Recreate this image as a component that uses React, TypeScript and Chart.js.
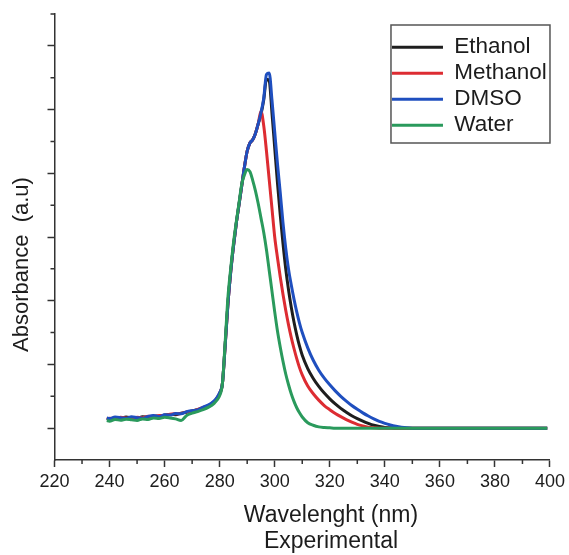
import React, { useEffect, useRef } from "react";
import { Chart, registerables } from "chart.js";

Chart.register(...registerables);

const wavelengths = [239, 240, 242, 244, 246, 248, 250, 252, 254, 256, 258, 260, 262, 264, 266, 268, 270, 272, 274, 276, 278, 279, 280,
  281, 282, 283, 284, 285, 286, 287, 288, 289, 290, 291, 292, 293, 294, 295, 296, 297, 298, 299, 300, 301, 302, 303, 304, 305, 306, 307, 308, 309, 310,
  312, 314, 316, 318, 320, 322, 324, 326, 328, 330, 332, 334, 336, 338, 340, 342, 344, 346, 348, 350,
  355, 360, 365, 370, 375, 380, 385, 390, 395, 399];

const ethanol = [0.030, 0.028, 0.033, 0.031, 0.035, 0.032, 0.030, 0.036, 0.034, 0.038, 0.037, 0.041, 0.043, 0.042, 0.047, 0.050, 0.054, 0.058, 0.063, 0.071, 0.083, 0.093, 0.108,
  0.14, 0.26, 0.39, 0.49, 0.57, 0.64, 0.70, 0.76, 0.82, 0.87, 0.895, 0.905, 0.925, 0.955, 0.985, 1.03, 1.095, 1.09, 0.99, 0.88, 0.77, 0.67, 0.58, 0.50, 0.435, 0.38, 0.333, 0.293, 0.258, 0.229,
  0.187, 0.156, 0.131, 0.11, 0.092, 0.076, 0.062, 0.05, 0.039, 0.03, 0.022, 0.015, 0.009, 0.005, 0.002, 0.001, 0, 0, 0, 0,
  0, 0, 0, 0, 0, 0, 0, 0, 0, 0];

const methanol = [0.028, 0.031, 0.030, 0.034, 0.032, 0.030, 0.034, 0.033, 0.037, 0.036, 0.040, 0.039, 0.044, 0.045, 0.046, 0.051, 0.053, 0.059, 0.065, 0.070, 0.082, 0.094, 0.110,
  0.14, 0.26, 0.39, 0.49, 0.57, 0.64, 0.70, 0.76, 0.82, 0.87, 0.895, 0.905, 0.925, 0.955, 0.995, 0.95, 0.87, 0.78, 0.69, 0.60, 0.535, 0.475, 0.42, 0.37, 0.325, 0.285, 0.25, 0.218, 0.19, 0.167,
  0.132, 0.108, 0.088, 0.071, 0.058, 0.046, 0.036, 0.027, 0.019, 0.012, 0.007, 0.003, 0.001, 0, 0, 0, 0, 0, 0, 0,
  0, 0, 0, 0, 0, 0, 0, 0, 0, 0];

const dmso = [0.032, 0.030, 0.035, 0.033, 0.030, 0.036, 0.033, 0.031, 0.037, 0.040, 0.036, 0.042, 0.041, 0.046, 0.045, 0.052, 0.055, 0.057, 0.066, 0.073, 0.086, 0.096, 0.112,
  0.14, 0.26, 0.39, 0.49, 0.57, 0.64, 0.70, 0.76, 0.82, 0.87, 0.895, 0.905, 0.925, 0.955, 0.99, 1.035, 1.11, 1.115, 1.03, 0.93, 0.83, 0.74, 0.645, 0.565, 0.50, 0.45, 0.405, 0.365, 0.33, 0.30,
  0.252, 0.213, 0.182, 0.157, 0.136, 0.117, 0.10, 0.085, 0.071, 0.059, 0.048, 0.038, 0.029, 0.021, 0.015, 0.01, 0.006, 0.003, 0.001, 0,
  0, 0, 0, 0, 0, 0, 0, 0, 0, 0];

const water = [0.024, 0.022, 0.027, 0.025, 0.028, 0.026, 0.024, 0.029, 0.027, 0.032, 0.030, 0.034, 0.032, 0.029, 0.024, 0.040, 0.047, 0.052, 0.058, 0.066, 0.078, 0.088, 0.102,
  0.14, 0.27, 0.41, 0.50, 0.58, 0.645, 0.705, 0.765, 0.795, 0.812, 0.805, 0.778, 0.745, 0.705, 0.66, 0.615, 0.56, 0.495, 0.43, 0.365, 0.305, 0.255, 0.21, 0.17, 0.137, 0.108, 0.084, 0.064, 0.048, 0.035,
  0.017, 0.009, 0.004, 0.002, 0.001, 0, 0, 0, 0, 0, 0, 0, 0, 0, 0, 0, 0, 0, 0, 0,
  0, 0, 0, 0, 0, 0, 0, 0, 0, 0];

const seriesNames = ["Ethanol", "Methanol", "DMSO", "Water"];
const xMajorTicks = [220, 240, 260, 280, 300, 320, 340, 360, 380, 400];
const xMinorTicks = [230, 250, 270, 290, 310, 330, 350, 370, 390];
const yMajorTicks = [0, 0.2, 0.4, 0.6, 0.8, 1.0, 1.2];
const yMinorTicks = [0.1, 0.3, 0.5, 0.7, 0.9, 1.1, 1.3];

const FONT = "'Liberation Sans', Arial, sans-serif";
const AXIS = "#333333";
const TEXT = "#1c1c1c";

const minorTicksPlugin = {
  id: "minorTicks",
  afterDraw(chart: any) {
    const { ctx } = chart;
    const xs = chart.scales.x;
    const ys = chart.scales.y;
    ctx.save();
    ctx.strokeStyle = AXIS;
    ctx.lineWidth = 1.5;
    ctx.beginPath();
    for (const v of xMinorTicks) {
      const px = xs.getPixelForValue(v);
      ctx.moveTo(px, xs.top);
      ctx.lineTo(px, xs.top + 4);
    }
    for (const v of yMinorTicks) {
      const py = ys.getPixelForValue(v);
      ctx.moveTo(ys.right, py);
      ctx.lineTo(ys.right - 4, py);
    }
    ctx.stroke();
    const lg = chart.legend;
    if (lg && lg._frame) {
      const f = lg._frame;
      ctx.strokeStyle = "#555555";
      ctx.lineWidth = 1.5;
      ctx.strokeRect(f.left, f.top, f.width, f.height);
    }
    ctx.restore();
  },
};

const legendPlacePlugin = {
  id: "legendPlace",
  afterLayout(chart: any) {
    const lg = chart.legend;
    const ca = chart.chartArea;
    if (!lg || !ca) return;
    const frameW = 159;
    const frameH = 118;
    const frameLeft = ca.right - frameW;
    const frameTop = ca.top + 11;
    const pad = lg.options.labels.padding;
    lg.left = frameLeft + 1 - pad;
    lg.top = frameTop + 11 - pad;
    lg.right = lg.left + lg.width;
    lg.bottom = lg.top + lg.height;
    lg._frame = { left: frameLeft, top: frameTop, width: frameW, height: frameH };
  },
};

export default function App() {
  const ref = useRef<HTMLCanvasElement | null>(null);
  useEffect(() => {
    if (!ref.current) return;
    const colors = ["#1e1e1e", "#dd2c32", "#1f4fbf", "#2a9a5c"];
    const values = [ethanol, methanol, dmso, water];
    const orders = [4, 3, 2, 1];
    const chart = new Chart(ref.current, {
      type: "line",
      data: {
        labels: wavelengths,
        datasets: seriesNames.map((name, i) => ({
          label: name,
          data: wavelengths.map((w, j) => ({ x: w, y: values[i][j] })),
          borderColor: colors[i],
          backgroundColor: colors[i],
          borderWidth: 3,
          pointRadius: 0,
          cubicInterpolationMode: "monotone" as const,
          order: orders[i],
        })),
      },
      options: {
        animation: false,
        responsive: true,
        maintainAspectRatio: false,
        layout: { padding: { top: 14, right: 18, bottom: 0, left: 0 } },
        plugins: {
          tooltip: { enabled: false },
          legend: {
            position: "chartArea" as any,
            align: "start",
            labels: {
              boxWidth: 51,
              boxHeight: 3,
              padding: 3.5,
              color: TEXT,
              font: { family: FONT, size: 22.5 },
              sort: (a: any, b: any) => a.datasetIndex - b.datasetIndex,
              generateLabels: (c: any) =>
                Chart.defaults.plugins.legend.labels
                  .generateLabels(c)
                  .map((l: any) => ({ ...l, lineWidth: 0, fillStyle: l.strokeStyle })),
            },
          },
        },
        scales: {
          x: {
            type: "linear",
            min: 220,
            max: 400,
            afterBuildTicks: (s: any) => {
              s.ticks = xMajorTicks.map((v) => ({ value: v }));
            },
            grid: { drawOnChartArea: false, drawTicks: true, tickLength: 7, tickColor: AXIS, tickWidth: 1.5 },
            border: { display: true, color: AXIS, width: 1.5 },
            ticks: { color: TEXT, font: { family: FONT, size: 18 }, padding: 4, maxRotation: 0, autoSkip: false },
            title: {
              display: true,
              text: ["         Wavelenght (nm)", "         Experimental"],
              color: TEXT,
              font: { family: FONT, size: 23, lineHeight: "26px" },
              padding: { top: 6.4, bottom: 0 },
            },
          },
          y: {
            type: "linear",
            min: -0.1,
            max: 1.3,
            afterBuildTicks: (s: any) => {
              s.ticks = yMajorTicks.map((v) => ({ value: v }));
            },
            grid: { drawOnChartArea: false, drawTicks: true, tickLength: 7, tickColor: AXIS, tickWidth: 1.5 },
            border: { display: true, color: AXIS, width: 1.5 },
            ticks: { display: false },
            title: {
              display: true,
              text: "Absorbance  (a.u)         ",
              color: TEXT,
              font: { family: FONT, size: 22, lineHeight: "24px" },
              padding: { top: 10, bottom: 13.5 },
            },
          },
        },
      },
      plugins: [legendPlacePlugin, minorTicksPlugin],
    });
    return () => chart.destroy();
  }, []);
  return (
    <div style={{ position: "absolute", left: 0, top: 0, width: 569, height: 555, background: "#fff" }}>
      <canvas ref={ref} />
    </div>
  );
}
